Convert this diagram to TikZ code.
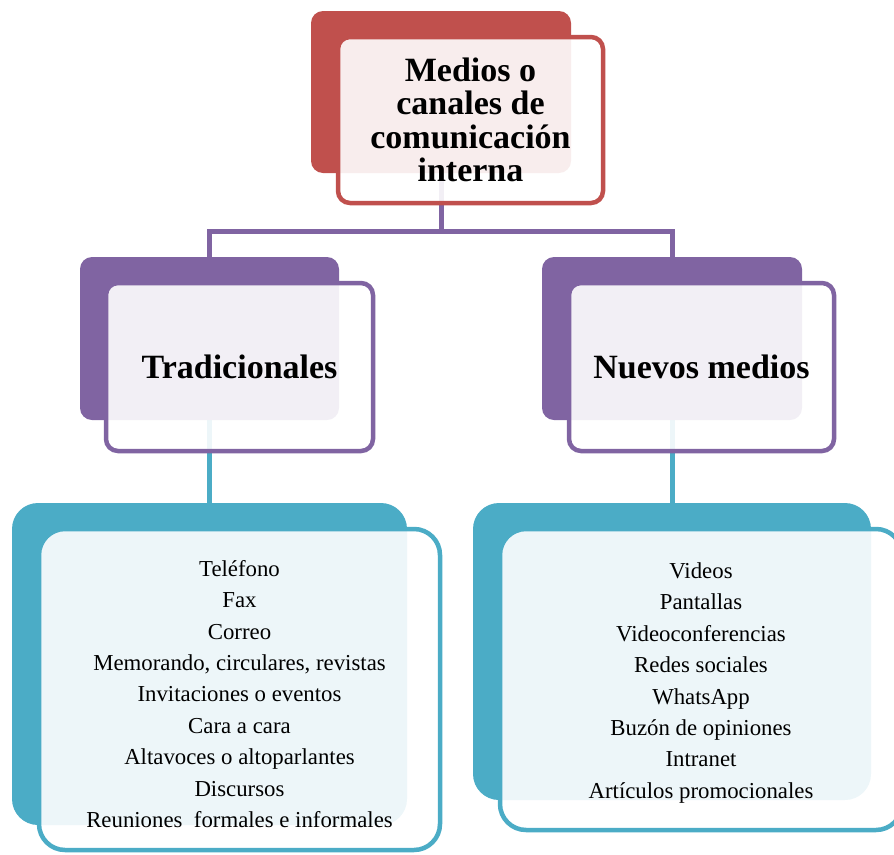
\documentclass[tikz,border=0pt]{standalone}
\usepackage{fontspec}
\setmainfont{Liberation Serif}
\usetikzlibrary{backgrounds}
\definecolor{cred}{HTML}{C0504D}
\definecolor{cpur}{HTML}{8064A2}
\definecolor{cteal}{HTML}{4BACC6}
\tikzset{
  backbox/.style={draw=none, fill=#1, inner sep=0pt},
  frontbox/.style={draw=#1, line width=4.5pt, fill=white, fill opacity=0.9, text opacity=1, inner sep=0pt, align=center},
  smallr/.style={rounded corners=12pt},
  bigr/.style={rounded corners=26pt},
  titlefont/.style={font=\fontsize{34}{33.5}\selectfont\bfseries},
  listfont/.style={font=\fontsize{22.8}{31.4}\selectfont},
  conn/.style={line width=5pt, draw=#1}
}
\begin{document}
\begin{tikzpicture}[x=1pt,y=-1pt]
\useasboundingbox (0,0) rectangle (894,854);
% top
\node[backbox=cred, smallr, minimum width=260pt, minimum height=162pt] (topD) at (441,92) {};
\node[frontbox=cred, smallr, titlefont, minimum width=265pt, minimum height=166pt] (topF) at (470.5,120) {Medios o\\canales de\\comunicación\\interna};
% level 2
\node[backbox=cpur, smallr, minimum width=259pt, minimum height=163pt] (tradD) at (209.5,338.5) {};
\node[frontbox=cpur, smallr, titlefont, minimum width=267pt, minimum height=168pt] (tradF) at (239.5,367) {Tradicionales};
\node[backbox=cpur, smallr, minimum width=260pt, minimum height=163pt] (nuevD) at (672,338.5) {};
\node[frontbox=cpur, smallr, titlefont, minimum width=265pt, minimum height=168pt] (nuevF) at (701.5,367) {Nuevos medios};
% lists
\node[backbox=cteal, bigr, minimum width=395pt, minimum height=322pt] (listLD) at (209.5,664) {};
\node[frontbox=cteal, bigr, listfont, minimum width=401pt, minimum height=321pt] (listLF) at (239.5,689.5) {};
\node[listfont, align=center, inner sep=0pt] (listLT) at (239.5,694) {Teléfono\\Fax\\Correo\\Memorando, circulares, revistas\\Invitaciones o eventos\\Cara a cara\\Altavoces o altoparlantes\\Discursos\\Reuniones\ \ formales e informales};
\node[backbox=cteal, bigr, minimum width=398pt, minimum height=297pt] (listRD) at (672,651.5) {};
\node[frontbox=cteal, bigr, listfont, minimum width=402pt, minimum height=301pt] (listRF) at (701,679.5) {};
\node[listfont, align=center, inner sep=0pt] (listRT) at (701,683) {Videos\\Pantallas\\Videoconferencias\\Redes sociales\\WhatsApp\\Buzón de opiniones\\Intranet\\Artículos promocionales};
% connectors
\coordinate (bus) at (0,231);
\begin{pgfonlayer}{background}
\draw[conn=cpur] (topD.center) -- (topD.center |- bus) -| (tradD.center);
\draw[conn=cpur] (topD.center |- bus) -| (nuevD.center);
\draw[conn=cteal] (tradD.center) -- (listLD.center);
\draw[conn=cteal] (nuevD.center) -- (listRD.center);
\end{pgfonlayer}
\end{tikzpicture}
\end{document}
